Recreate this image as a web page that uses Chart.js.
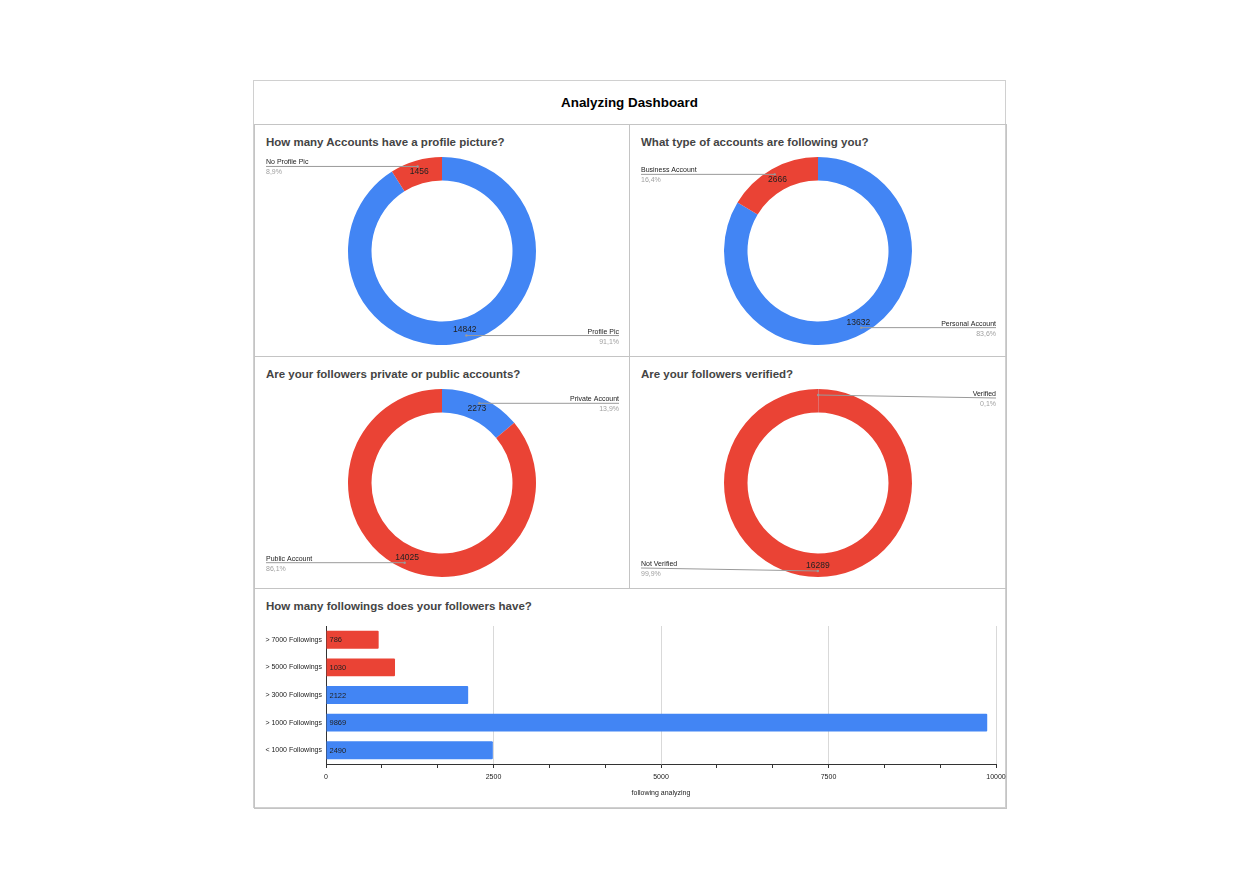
<!DOCTYPE html>
<html>
<head>
<meta charset="utf-8">
<script src="https://cdn.jsdelivr.net/npm/chart.js@4.4.1/dist/chart.umd.min.js"></script>
<style>
  body { margin: 0; background: #fff; font-family: "Liberation Sans", Arial, sans-serif; }
  #dash { position: absolute; left: 253px; top: 80px; width: 753px; height: 728px; border: 1px solid #d0d0d0; box-sizing: border-box; }
  .head { position: absolute; left: 0; top: 0; width: 100%; height: 43px; line-height: 43px; text-align: center; font-weight: bold; font-size: 13.4px; color: #000; }
  .panel { position: absolute; border: 1px solid #c4c4c4; box-sizing: border-box; }
  .panel h2 { position: absolute; left: 11px; top: 11px; margin: 0; font-size: 11.5px; font-weight: bold; color: #444; white-space: nowrap; }
  .panel canvas { position: absolute; left: 0; }
</style>
</head>
<body>
<div id="dash">
  <div class="head">Analyzing Dashboard</div>
  <div class="panel" style="left:0;top:43px;width:376px;height:233px">
    <h2>How many Accounts have a profile picture?</h2>
    <canvas id="pic" width="374" height="200" style="top:26px"></canvas>
  </div>
  <div class="panel" style="left:375px;top:43px;width:378px;height:233px">
    <h2>What type of accounts are following you?</h2>
    <canvas id="type" width="376" height="200" style="top:26px"></canvas>
  </div>
  <div class="panel" style="left:0;top:275px;width:376px;height:233px">
    <h2>Are your followers private or public accounts?</h2>
    <canvas id="priv" width="374" height="200" style="top:26px"></canvas>
  </div>
  <div class="panel" style="left:375px;top:275px;width:378px;height:233px">
    <h2>Are your followers verified?</h2>
    <canvas id="verif" width="376" height="200" style="top:26px"></canvas>
  </div>
  <div class="panel" style="left:0;top:507px;width:753px;height:221px">
    <h2>How many followings does your followers have?</h2>
    <canvas id="follow" width="751" height="190" style="top:27px"></canvas>
  </div>
</div>

<script>
const BLUE = '#4285F4';
const RED = '#EA4335';

// donut data
const picLabels = ['Profile Pic', 'No Profile Pic'];
const picValues = [14842, 1456];
const typeLabels = ['Personal Account', 'Business Account'];
const typeValues = [13632, 2666];
const privLabels = ['Private Account', 'Public Account'];
const privValues = [2273, 14025];
const verifLabels = ['Verified', 'Not Verified'];
const verifValues = [9, 16289];

// bar data
const followLabels = ['> 7000 Followings', '> 5000 Followings', '> 3000 Followings', '> 1000 Followings', '< 1000 Followings'];
const followValues = [786, 1030, 2122, 9869, 2490];
const followColors = [RED, RED, BLUE, BLUE, BLUE];
const axisTitle = 'following analyzing';

const FONT = '"Liberation Sans", Arial, sans-serif';

// value in the ring + leader line to the name / percent at the side
const leaders = {
  id: 'leaders',
  afterDatasetsDraw(chart) {
    const ctx = chart.ctx;
    const ds = chart.data.datasets[0];
    const total = ds.data.reduce((a, b) => a + b, 0);
    chart.getDatasetMeta(0).data.forEach((arc, i) => {
      const p = arc.getProps(['x', 'y', 'startAngle', 'endAngle', 'innerRadius', 'outerRadius'], true);
      const mid = (p.startAngle + p.endAngle) / 2;
      const rv = (p.innerRadius + p.outerRadius) / 2;
      const ra = p.outerRadius - 6;
      const share = ds.data[i] / total;
      ctx.save();
      if (share > 0.01) {
        ctx.font = '8.5px ' + FONT;
        ctx.fillStyle = '#222';
        ctx.textAlign = 'center';
        ctx.textBaseline = 'middle';
        ctx.fillText(String(ds.data[i]), p.x + Math.cos(mid) * rv, p.y + Math.sin(mid) * rv);
      }
      const ax = p.x + Math.cos(mid) * ra;
      const ay = p.y + Math.sin(mid) * ra;
      const ly = Math.min(Math.max(ay, p.y - 85), p.y + 85);
      const right = ax >= p.x;
      const ex = right ? chart.width - 10 : 11;
      ctx.strokeStyle = '#9a9a9a';
      ctx.lineWidth = 1;
      ctx.beginPath();
      ctx.moveTo(ax, ay);
      ctx.lineTo(ex, ly);
      ctx.stroke();
      ctx.fillStyle = '#9a9a9a';
      ctx.beginPath();
      ctx.arc(ax, ay, 1.2, 0, Math.PI * 2);
      ctx.fill();
      ctx.font = '7px ' + FONT;
      ctx.textAlign = right ? 'right' : 'left';
      ctx.textBaseline = 'alphabetic';
      ctx.fillStyle = '#222';
      ctx.fillText(chart.data.labels[i], ex, ly - 2);
      ctx.fillStyle = '#a0a0a0';
      ctx.fillText((share * 100).toFixed(1).replace('.', ',') + '%', ex, ly + 8);
      ctx.restore();
    });
  }
};

function donut(id, labels, values) {
  new Chart(document.getElementById(id), {
    type: 'doughnut',
    data: {
      labels: labels,
      datasets: [{ data: values, backgroundColor: [BLUE, RED], borderWidth: 0 }]
    },
    options: {
      responsive: false,
      animation: false,
      cutout: '75%',
      layout: { padding: { top: 6, bottom: 6 } },
      plugins: { legend: { display: false }, tooltip: { enabled: false } }
    },
    plugins: [leaders]
  });
}

donut('pic', picLabels, picValues);
donut('type', typeLabels, typeValues);
donut('priv', privLabels, privValues);
donut('verif', verifLabels, verifValues);

const barValues = {
  id: 'barValues',
  afterDatasetsDraw(chart) {
    const ctx = chart.ctx;
    ctx.save();
    ctx.font = '7.5px ' + FONT;
    ctx.fillStyle = '#222';
    ctx.textAlign = 'left';
    ctx.textBaseline = 'middle';
    chart.getDatasetMeta(0).data.forEach((bar, i) => {
      ctx.fillText(String(followValues[i]), bar.base + 3, bar.y + 0.5);
    });
    ctx.restore();
  }
};

new Chart(document.getElementById('follow'), {
  type: 'bar',
  data: {
    labels: followLabels,
    datasets: [{ data: followValues, backgroundColor: followColors, borderRadius: 1, categoryPercentage: 1, barPercentage: 0.65 }]
  },
  options: {
    indexAxis: 'y',
    responsive: false,
    animation: false,
    layout: { padding: { top: 10, right: 10, left: 0, bottom: 0 } },
    plugins: { legend: { display: false }, tooltip: { enabled: false } },
    scales: {
      x: {
        min: 0,
        max: 10000,
        afterFit: s => { s.height = 42; s.paddingRight = 0; s.paddingLeft = 0; },
        ticks: {
          stepSize: 2500 / 3,
          autoSkip: false,
          maxRotation: 0,
          padding: 5,
          color: '#222',
          font: { size: 7, family: FONT },
          callback: (v, i) => (i % 3 === 0 ? String(i / 3 * 2500) : '')
        },
        grid: {
          color: c => (c.index % 3 === 0 ? '#d9d9d9' : 'rgba(0,0,0,0)'),
          tickColor: '#333',
          tickLength: 4
        },
        border: { color: '#333', width: 1 },
        title: { display: true, text: axisTitle, color: '#222', font: { size: 7, family: FONT }, padding: { top: 4, bottom: 9 } }
      },
      y: {
        afterFit: s => { s.width = 71; },
        ticks: { color: '#222', padding: 4, font: { size: 7, family: FONT } },
        grid: { display: false, drawTicks: false },
        border: { color: '#333', width: 1 }
      }
    }
  },
  plugins: [barValues]
});
</script>
</body>
</html>
